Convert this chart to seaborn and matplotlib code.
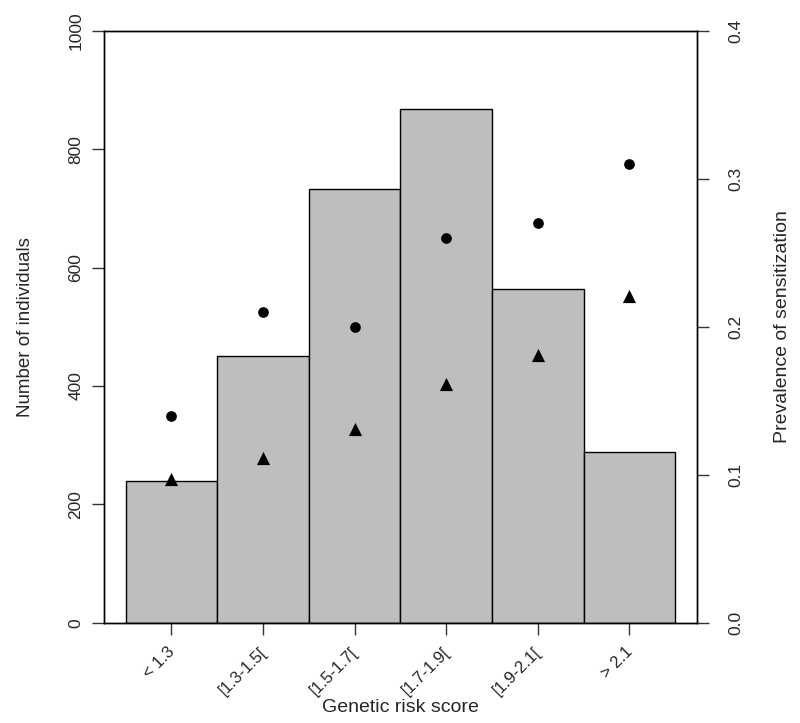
import numpy as np
import pandas as pd
import seaborn as sns
import matplotlib.pyplot as plt
from matplotlib.transforms import ScaledTranslation

# data
groups = ['< 1.3', '[1.3-1.5[', '[1.5-1.7[', '[1.7-1.9[', '[1.9-2.1[', '> 2.1']
n_individuals = [240, 450, 732, 867, 564, 289]
prev_circle = [0.14, 0.21, 0.20, 0.26, 0.27, 0.31]
prev_triangle = [0.097, 0.111, 0.131, 0.161, 0.181, 0.221]

sns.set_style('ticks')
plt.rcParams['font.family'] = ['Liberation Sans', 'DejaVu Sans']

df = pd.DataFrame({'group': groups, 'n': n_individuals,
                   'circ': prev_circle, 'tri': prev_triangle})

fig = plt.figure(figsize=(8, 7.23), dpi=100)
ax = fig.add_axes([0.1296, 0.1387, 0.7418, 0.8188])

sns.barplot(data=df, x='group', y='n', order=groups, width=1.0,
            color='#BEBEBE', saturation=1, edgecolor='black', linewidth=1,
            ax=ax)
ax.set_ylim(0, 1000)
ax.set_yticks([0, 200, 400, 600, 800, 1000])

ax2 = ax.twinx()
sns.stripplot(data=df, x='group', y='circ', order=groups, jitter=False,
              color='black', marker='o', size=7.7, linewidth=0, ax=ax2)
sns.stripplot(data=df, x='group', y='tri', order=groups, jitter=False,
              color='black', marker='^', size=9.5, linewidth=0, ax=ax2)
ax2.set_ylim(0, 0.4)
ax2.set_yticks([0.0, 0.1, 0.2, 0.3, 0.4])
ax2.set_yticklabels(['0.0', '0.1', '0.2', '0.3', '0.4'])
ax.set_xlim(-0.74, 5.74)

for a in (ax, ax2):
    for s in a.spines.values():
        s.set_visible(True)
        s.set_color('black')
        s.set_linewidth(1.0)

ax.tick_params(axis='y', length=8.6, width=1, color='#333333', labelsize=12.5, pad=6)
ax2.tick_params(axis='y', length=8.6, width=1, color='#333333', labelsize=12.5, pad=14)
ax.tick_params(axis='x', length=8.6, width=1, color='#333333', labelsize=12, pad=0)
for t in ax.get_yticklabels():
    t.set_rotation(90)
    t.set_va('center')
for t in ax2.get_yticklabels():
    t.set_rotation(90)
    t.set_va('center')

ax.set_xticks(range(len(groups)))
ax.set_xticklabels(groups, rotation=45, ha='right', va='center',
                   rotation_mode='anchor')
off = ScaledTranslation(1 / 100, -15 / 100, fig.dpi_scale_trans)
for t in ax.get_xticklabels():
    t.set_transform(t.get_transform() + off)

ax.set_xlabel('Genetic risk score', fontsize=14)
ax.xaxis.set_label_coords(0.5, -0.129)
ax.set_ylabel('Number of individuals', fontsize=13.5)
ax.yaxis.set_label_coords(-0.118, 0.5)
ax2.set_ylabel('Prevalence of sensitization', fontsize=14)
ax2.yaxis.set_label_coords(1.129, 0.5)

fig.savefig('out.png', dpi=100)
